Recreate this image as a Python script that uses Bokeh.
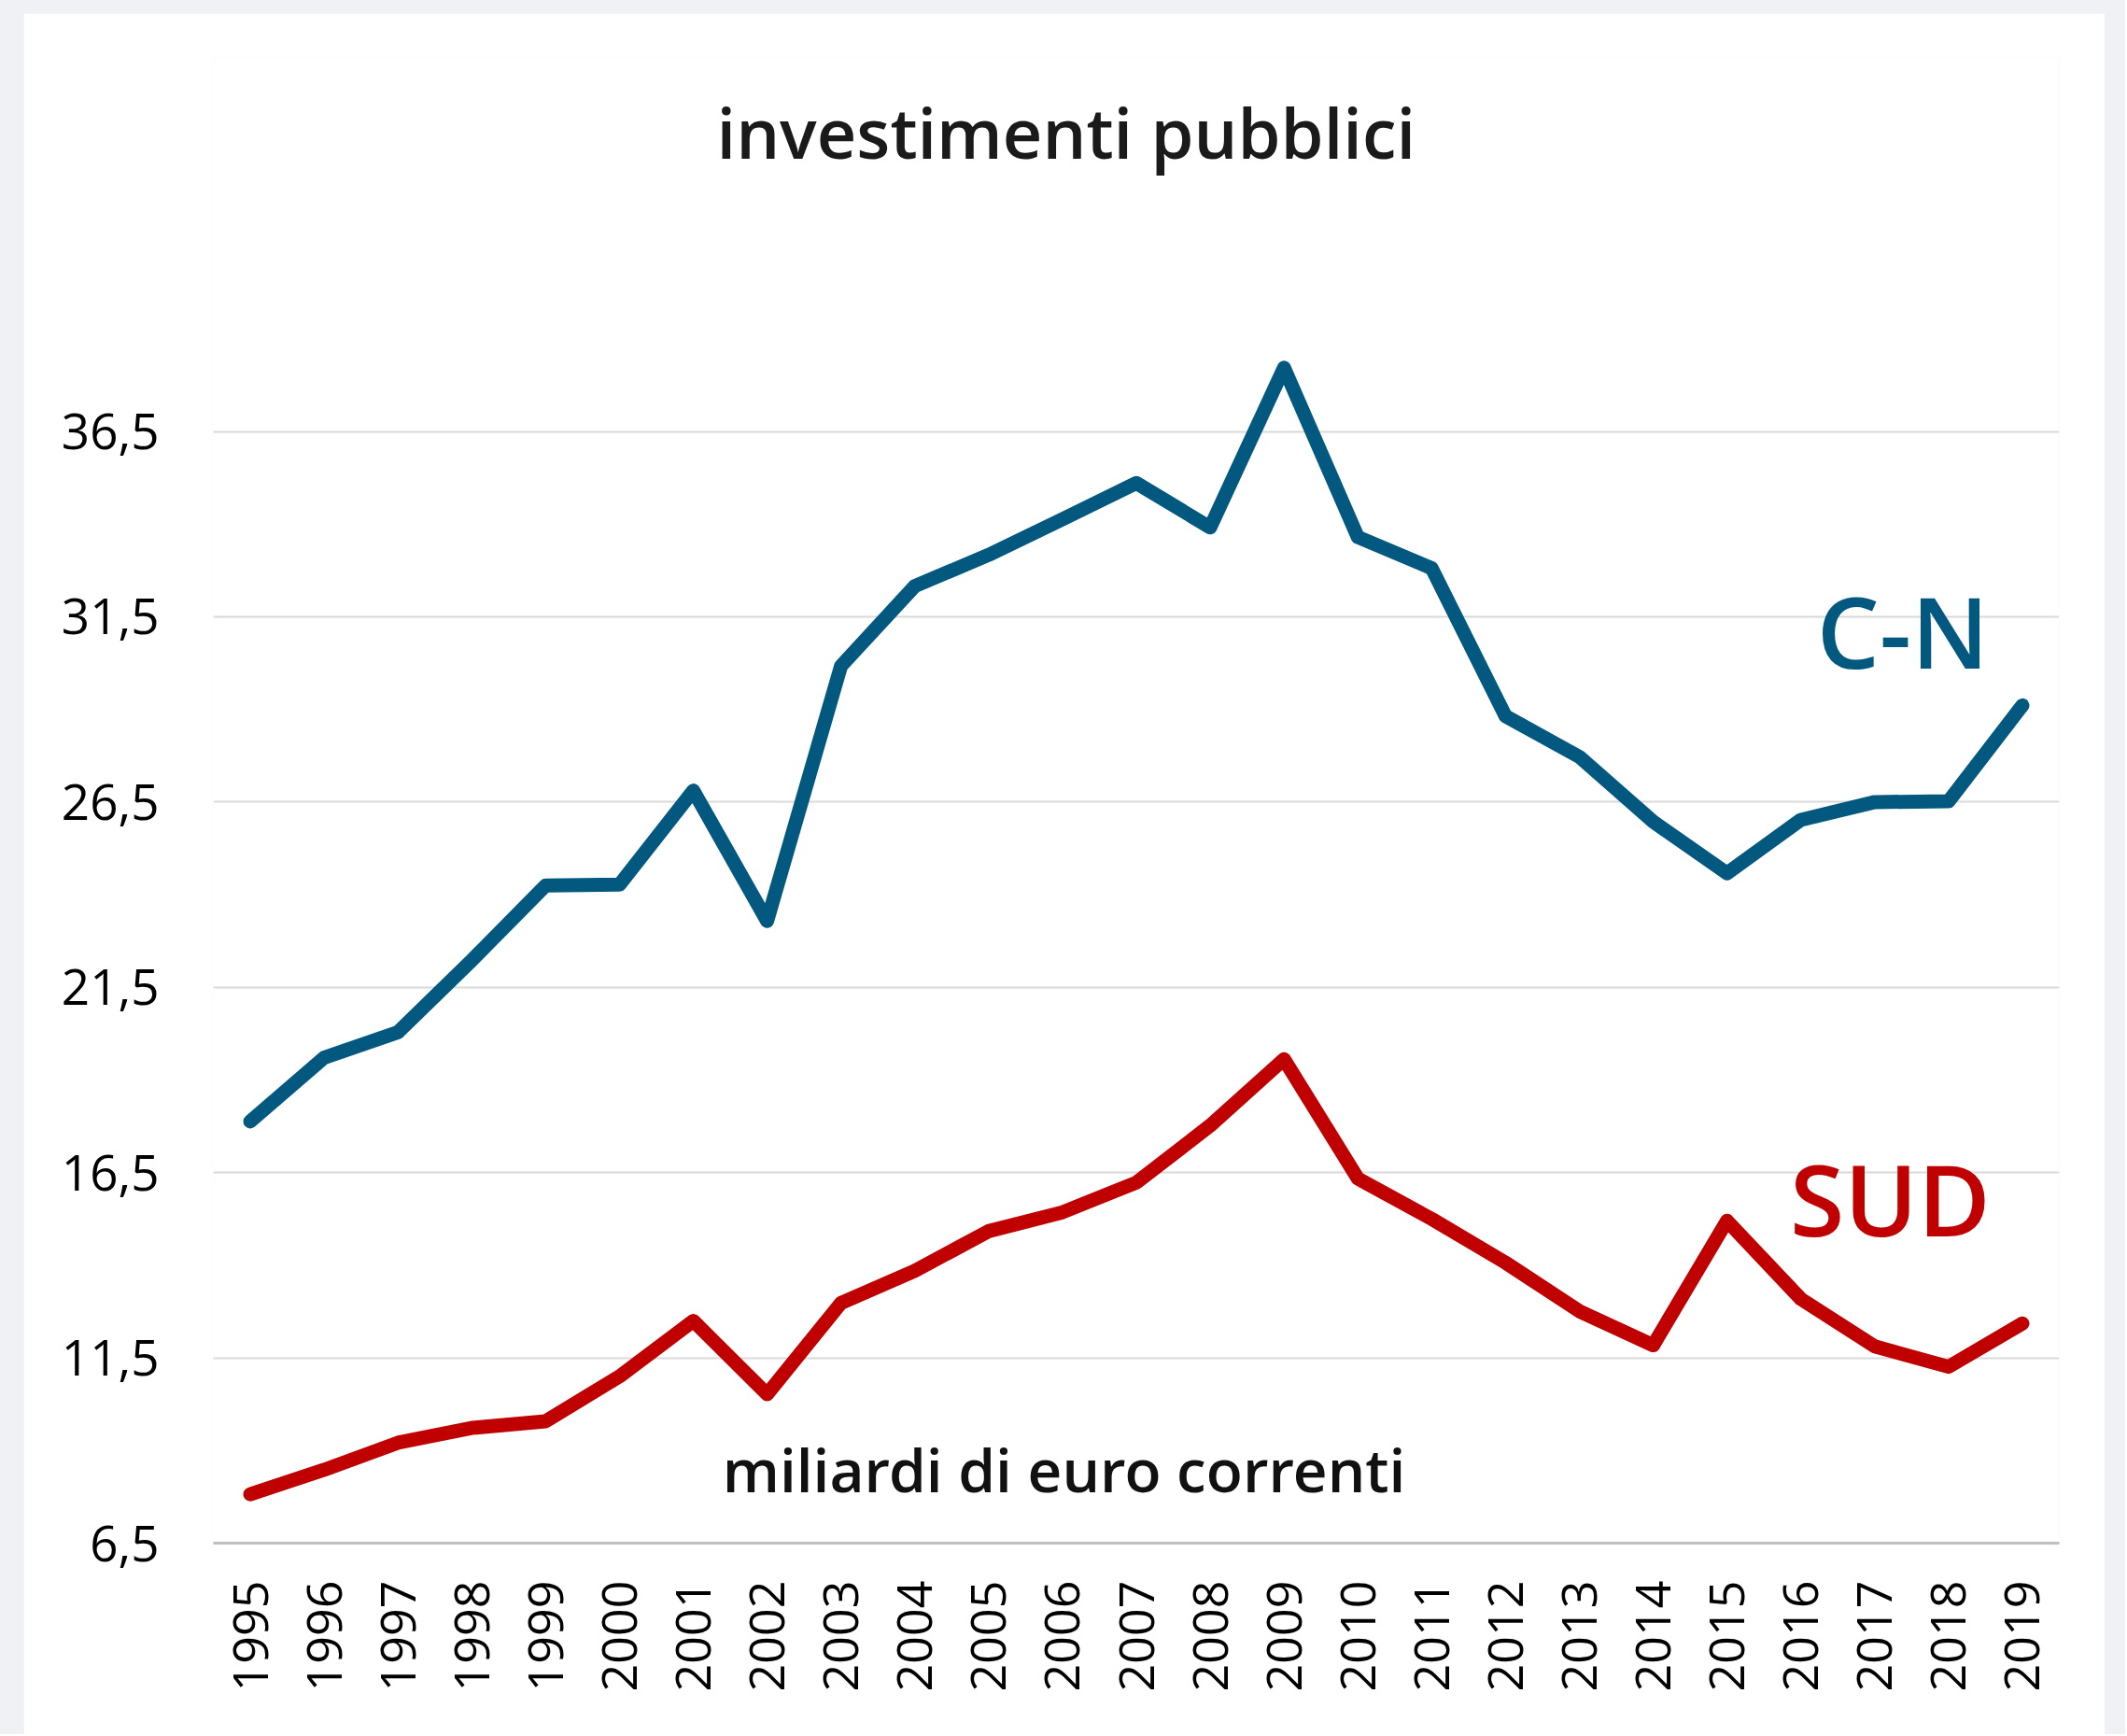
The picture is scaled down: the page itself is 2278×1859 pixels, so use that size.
from math import pi
from bokeh.plotting import figure
from bokeh.models import Range1d, FixedTicker, Label, ColumnDataSource
from bokeh.layouts import column
from bokeh.embed import file_html
from bokeh.resources import INLINE

# ---- data (miliardi di euro correnti) ----
years = list(range(1995, 2020))
cn = [17.88, 19.60, 20.29, 22.23, 24.25, 24.27, 26.81, 23.29, 30.17, 32.33,
      33.17, 34.13, 35.11, 33.91, 38.22, 33.65, 32.81, 28.82, 27.72, 25.97,
      24.58, 26.02, 26.50, 26.52, 29.11]
sud = [7.82, 8.48, 9.21, 9.61, 9.79, 11.00, 12.50, 10.52, 12.98, 13.85,
       14.92, 15.43, 16.23, 17.77, 19.56, 16.34, 15.25, 14.07, 12.76, 11.84,
       15.20, 13.09, 11.81, 11.26, 12.43]
y_ticks = [6.5, 11.5, 16.5, 21.5, 26.5, 31.5, 36.5]
y_tick_labels = ["6,5", "11,5", "16,5", "21,5", "26,5", "31,5", "36,5"]
title_text = "investimenti pubblici"
unit_text = "miliardi di euro correnti"
series_names = ["C-N", "SUD"]

BLUE = "#02587F"
RED = "#C00000"
FONT = "Open Sans"
SEMI = "Open Sans SemiBold"

src = ColumnDataSource(dict(year=years, cn=cn, sud=sud))

p = figure(width=2229, height=1843, output_backend="svg", toolbar_location=None,
           x_range=Range1d(1994.5, 2019.5), y_range=Range1d(6.5, 46.62),
           min_border_left=203, min_border_right=49,
           min_border_top=46, min_border_bottom=205)
p.outline_line_color = None
p.background_fill_color = "white"
p.border_fill_color = "white"
p.margin = (14, 22, 0, 25)

# x axis
xa = p.xaxis[0]
xa.ticker = FixedTicker(ticks=years)
xa.major_label_orientation = pi / 2
xa.major_label_text_font = FONT
xa.major_label_text_font_size = "52px"
xa.major_label_text_color = "#000000"
xa.major_tick_line_color = None
xa.major_tick_out = 0
xa.major_tick_in = 0
xa.minor_tick_line_color = None
xa.axis_line_color = "#bfbfbf"
xa.axis_line_width = 3
xa.major_label_standoff = 40

# y axis
ya = p.yaxis[0]
ya.ticker = FixedTicker(ticks=y_ticks)
ya.major_label_overrides = {t: l for t, l in zip(y_ticks, y_tick_labels)}
ya.major_label_text_font = FONT
ya.major_label_text_font_size = "53px"
ya.major_label_text_color = "#000000"
ya.major_tick_line_color = None
ya.major_tick_out = 0
ya.major_tick_in = 0
ya.minor_tick_line_color = None
ya.axis_line_color = None
ya.major_label_standoff = 58

p.xgrid.grid_line_color = None
p.ygrid.grid_line_color = "#d9d9d9"
p.ygrid.grid_line_width = 2

p.line("year", "cn", source=src, line_color=BLUE, line_width=15,
       line_join="round", line_cap="round")
p.line("year", "sud", source=src, line_color=RED, line_width=15,
       line_join="round", line_cap="round")

p.add_layout(Label(x=2006.05, y=43.85, y_offset=29, text=title_text,
                   text_align="center", text_baseline="alphabetic",
                   text_font=SEMI, text_font_size="74px", text_color="#1a1a1a"))
p.add_layout(Label(x=2006.02, y=7.85, y_offset=25, text=unit_text,
                   text_align="center", text_baseline="alphabetic",
                   text_font=SEMI, text_font_size="64px", text_color="#111111"))
p.add_layout(Label(x=2017.38, y=30.11, y_offset=41, text=series_names[0],
                   text_align="center", text_baseline="alphabetic",
                   text_font=SEMI, text_font_size="106px", text_color=BLUE))
p.add_layout(Label(x=2017.21, y=14.78, y_offset=41, text=series_names[1],
                   text_align="center", text_baseline="alphabetic",
                   text_font=SEMI, text_font_size="106px", text_color=RED))

layout = column(p, styles={"background-color": "#eff1f5"})

open("out.html", "w").write(file_html(layout, INLINE))
